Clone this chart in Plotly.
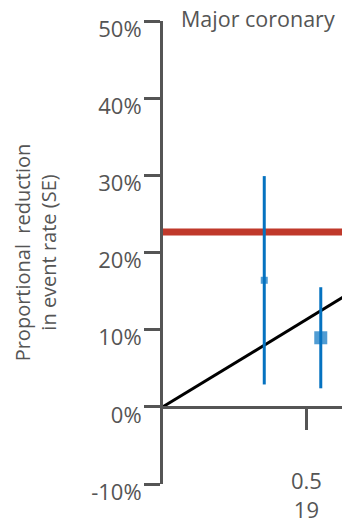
import plotly.graph_objects as go

# LDL reduction (x) vs proportional reduction in major coronary events (y)
trial_x = [0.353, 0.55]
trial_y = [0.164, 0.0895]
trial_err = [0.135, 0.0655]
trial_size = [7, 13]

overall_reduction = 0.2265          # horizontal reference
slope_x = [0.0, 1.0]                # expected reduction per unit LDL
slope_y = [0.0, 0.2265]

y_ticks = [-0.1, 0.0, 0.1, 0.2, 0.3, 0.4, 0.5]
y_labels = ["-10%", "0%", "10%", "20%", "30%", "40%", "50%"]
x_ticks = [0.5]
x_labels = ["0.5<br>19"]

x_range = [0.0, 0.624]
y_range = [-0.1, 0.5]

AXIS = "#555555"
BLUE = "#0572c0"
RED = "#c0392b"
FONT = "Open Sans"

fig = go.Figure()

fig.add_trace(go.Scatter(
    x=slope_x, y=slope_y, mode="lines",
    line=dict(color="black", width=3), hoverinfo="skip", showlegend=False,
))
fig.add_trace(go.Scatter(
    x=[x_range[0], x_range[1] * 1.2], y=[overall_reduction, overall_reduction],
    mode="lines", line=dict(color=RED, width=7), hoverinfo="skip", showlegend=False,
))
fig.add_trace(go.Scatter(
    x=trial_x, y=trial_y, mode="markers",
    marker=dict(symbol="square", size=trial_size, color=BLUE, line=dict(width=0)),
    error_y=dict(type="data", array=trial_err, visible=True, color=BLUE,
                 thickness=3, width=0),
    showlegend=False,
))

fig.update_layout(
    width=342, height=523,
    margin=dict(l=163, r=0, t=21, b=39),
    paper_bgcolor="white", plot_bgcolor="white",
    font=dict(family=FONT, color=AXIS),
    title=dict(text="Major coronary", x=181 / 342, xanchor="left",
               y=1 - 19 / 523, yanchor="middle", xref="container", yref="container",
               font=dict(size=21.5, color=AXIS, family=FONT)),
    xaxis=dict(
        range=x_range, showgrid=False, zeroline=False,
        showline=True, linecolor=AXIS, linewidth=3,
        anchor="free", position=(0 - y_range[0]) / (y_range[1] - y_range[0]),
        tickmode="array", tickvals=x_ticks, ticktext=x_labels,
        ticks="outside", ticklen=21, tickwidth=3, tickcolor=AXIS,
        ticklabelstandoff=33,
        tickfont=dict(size=22, color=AXIS, family=FONT),
    ),
    yaxis=dict(
        range=y_range, showgrid=False, zeroline=False,
        showline=True, linecolor=AXIS, linewidth=3,
        tickmode="array", tickvals=y_ticks, ticktext=y_labels,
        ticks="outside", ticklen=16, tickwidth=3, tickcolor=AXIS,
        ticklabelshift=8, ticklabelstandoff=-2,
        tickfont=dict(size=22, color=AXIS, family=FONT),
        title=dict(text="Proportional\u00a0 reduction<br>in event rate (SE)",
                   font=dict(size=20, color=AXIS, family=FONT), standoff=30),
    ),
)

fig.write_html("out.html")
